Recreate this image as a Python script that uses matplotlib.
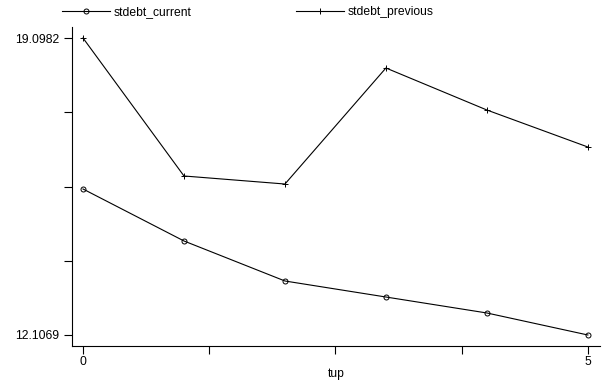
import numpy as np
import matplotlib
matplotlib.use("Agg")
import matplotlib.pyplot as plt

plt.rcParams['font.family'] = ['Liberation Sans', 'DejaVu Sans']

tup = [0, 1, 2, 3, 4, 5]
stdebt_current = [15.544, 14.320, 13.378, 13.001, 12.625, 12.1069]
stdebt_previous = [19.0982, 15.850, 15.661, 18.392, 17.403, 16.532]

y_min, y_max = 12.1069, 19.0982
y_labels = ["12.1069", "", "", "", "19.0982"]
x_labels = ["0", "", "", "", "5"]

fig = plt.figure(figsize=(6.08, 3.87), dpi=100)
ax = fig.add_axes([72 / 608, 41 / 387, 528 / 608, 319 / 387])

ax.plot(tup, stdebt_current, color='black', lw=0.8, marker='o', ms=3.6,
        mfc='none', mew=0.7, label='stdebt_current')
ax.plot(tup, stdebt_previous, color='black', lw=0.8, marker='+', ms=4,
        mew=0.7, label='stdebt_previous')

ax.set_xlim(-0.109, 5.12)
ax.set_ylim(y_min - 0.259, y_max + 0.259)

ax.set_yticks(np.linspace(y_min, y_max, 5))
ax.set_yticklabels(y_labels)
ax.set_xticks(np.linspace(0, 5, 5))
ax.set_xticklabels(x_labels)

ax.tick_params(direction='out', length=6, width=0.8, labelsize=8.7, color='black')
ax.tick_params(axis='y', pad=3)
ax.tick_params(axis='x', pad=1.5)
ax.set_xlabel('tup', fontsize=8.7, labelpad=0)

for s in ['top', 'right']:
    ax.spines[s].set_visible(False)
for s in ['left', 'bottom']:
    ax.spines[s].set_linewidth(0.8)

fig.legend(loc='upper left', bbox_to_anchor=(62 / 608, 1 - 6.5 / 387), ncol=2,
           frameon=False, fontsize=8.7, handlelength=4.0, handletextpad=0.3,
           columnspacing=8.6, borderpad=0, borderaxespad=0)

fig.savefig('out.png', dpi=100)
